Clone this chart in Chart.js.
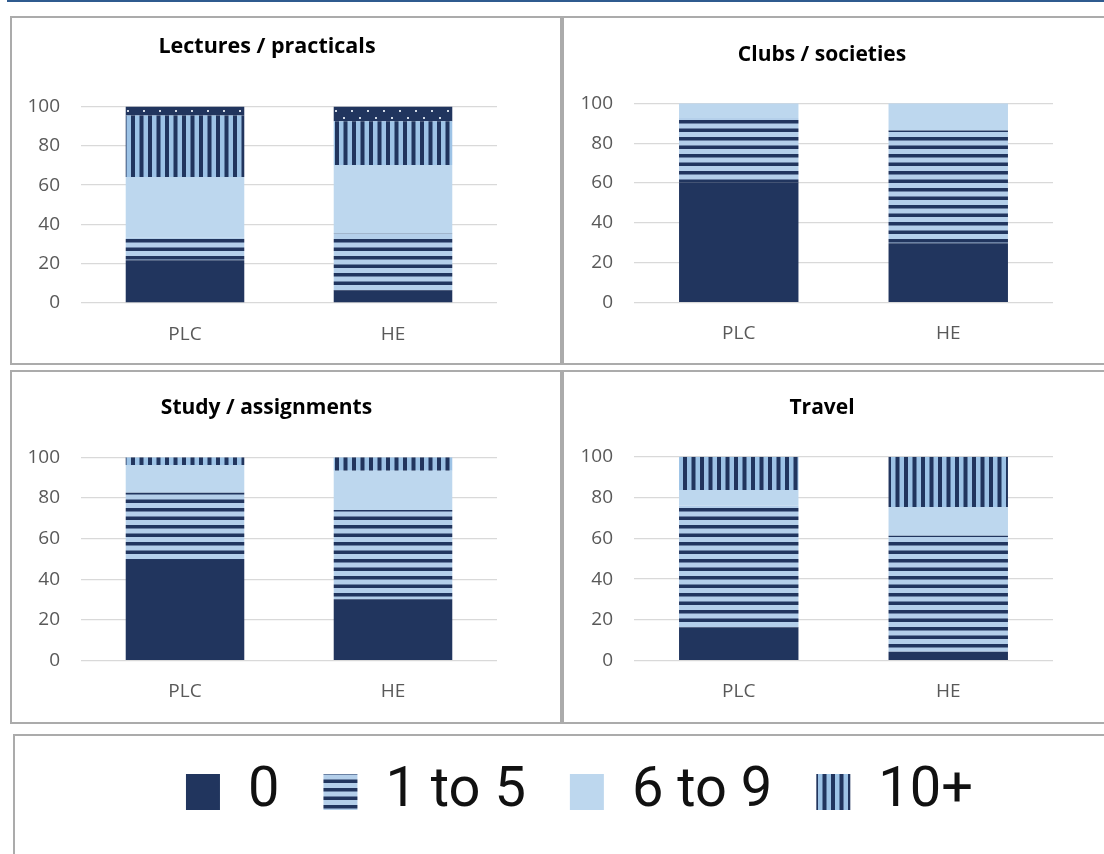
<!DOCTYPE html>
<html lang="en">
<head>
<meta charset="UTF-8">
<title>Hours per week</title>
<style>
  body { margin: 0; width: 1104px; height: 854px; overflow: hidden; background: #fff; position: relative; }
  #topline { position: absolute; left: 7px; top: 0; width: 1097px; height: 2px; background: #2f5b8f; }
  .panel { position: absolute; box-sizing: border-box; border: 2px solid #ababab; background: #fff; overflow: hidden; }
  .panel canvas { position: absolute; left: 0; top: 0; }
</style>
</head>
<body>
<div id="topline"></div>
<div class="panel" style="left:10px;top:16px;width:552px;height:349px"><canvas id="lectures" width="548" height="345"></canvas></div>
<div class="panel" style="left:562px;top:16px;width:560px;height:349px"><canvas id="clubs" width="540" height="345"></canvas></div>
<div class="panel" style="left:10px;top:370px;width:552px;height:354px"><canvas id="study" width="548" height="350"></canvas></div>
<div class="panel" style="left:562px;top:370px;width:560px;height:354px"><canvas id="travel" width="540" height="350"></canvas></div>
<div class="panel" style="left:13px;top:734px;width:1110px;height:140px"><canvas id="legend" width="1089" height="300" style="top:-16px"></canvas></div>

<script src="https://cdn.jsdelivr.net/npm/chart.js"></script>
<script>
// data (percent of students)
const categories = ['PLC', 'HE'];
const seriesNames = ['0', '1 to 5', '6 to 9', '10+'];

const lectures0 = [21.7, 6.5];
const lectures1to5 = [11.5, 28.7];
const lectures6to9 = [30.9, 35];
const lectures10 = [31.3, 22.3];
const lecturesTop = [4.6, 7.5];

const clubs0 = [60.2, 29.8];
const clubs1to5 = [32.4, 56.5];
const clubs6to9 = [7.4, 13.7];
const clubs10 = [0, 0];

const study0 = [49, 30.2];
const study1to5 = [33.6, 43.9];
const study6to9 = [13.6, 19.3];
const study10 = [3.8, 6.6];

const travel0 = [16.3, 4.4];
const travel1to5 = [59.8, 56.9];
const travel6to9 = [7.6, 14];
const travel10 = [16.3, 24.7];

const yTicks = [0, 20, 40, 60, 80, 100];

const DARK = '#21355e';
const LIGHT = '#bdd7ee';
const FONT = "'Open Sans', 'Noto Sans', sans-serif";

function tile(w, h, draw) {
    const c = document.createElement('canvas');
    c.width = w; c.height = h;
    const g = c.getContext('2d');
    draw(g);
    return g.createPattern(c, 'repeat');
}

const solidFill = DARK;
const hStripes = tile(17, 17, g => {
    g.fillStyle = '#b4cfea'; g.fillRect(0, 0, 17, 17);
    g.fillStyle = DARK; g.fillRect(0, 0, 17, 3.5); g.fillRect(0, 8.5, 17, 3.5);
});
const lightFill = LIGHT;
const vStripes = tile(17, 17, g => {
    g.fillStyle = '#9dc3e6'; g.fillRect(0, 0, 17, 17);
    g.fillStyle = DARK; g.fillRect(0, 0, 4, 17); g.fillRect(8.5, 0, 4, 17);
});
const dotted = tile(16, 15, g => {
    g.fillStyle = DARK; g.fillRect(0, 0, 16, 15);
    g.fillStyle = '#d0d8e4';
    g.fillRect(3, 2, 2, 2); g.fillRect(11, 9, 2, 2);
});
const fills = [solidFill, hStripes, lightFill, vStripes];

function makePanel(id, title, series, extra, geo) {
    const datasets = series.map((d, i) => ({ label: seriesNames[i], data: d, backgroundColor: fills[i], borderWidth: 0 }));
    if (extra) datasets.push({ label: '', data: extra, backgroundColor: dotted, borderWidth: 0 });

    new Chart(document.getElementById(id), {
        type: 'bar',
        data: { labels: categories, datasets: datasets },
        options: {
            responsive: false,
            animation: false,
            events: [],
            layout: { padding: { left: 0, right: geo.right, top: 0, bottom: 0 } },
            datasets: { bar: { categoryPercentage: 1, barPercentage: 0.57 } },
            plugins: {
                legend: { display: false },
                tooltip: { enabled: false },
                title: {
                    display: true,
                    text: title,
                    color: '#000',
                    font: { family: FONT, size: geo.titleSize, weight: 'bold' },
                    padding: { top: geo.titleTop, bottom: geo.titleBottom }
                }
            },
            scales: {
                x: {
                    stacked: true,
                    grid: { display: false, drawTicks: false },
                    border: { display: false },
                    ticks: { color: '#595959', font: { family: FONT, size: 19 }, padding: geo.xPad },
                    afterFit: s => { s.height = geo.xH; }
                },
                y: {
                    stacked: true,
                    min: 0,
                    max: 100,
                    afterBuildTicks: s => { s.ticks = yTicks.map(v => ({ value: v })); },
                    grid: { color: '#d9d9d9', lineWidth: 1.3, drawTicks: false },
                    border: { display: false },
                    ticks: { color: '#595959', font: { family: FONT, size: 19 }, padding: 21 },
                    afterFit: s => { s.width = geo.yW; }
                },
                // empty right-hand axis, only reserves space so the title sits where it does in the original
                y2: {
                    type: 'linear',
                    position: 'right',
                    grid: { display: false, drawTicks: false },
                    border: { display: false },
                    ticks: { display: false },
                    afterFit: s => { s.width = geo.y2W; }
                }
            }
        }
    });
}

makePanel('lectures', 'Lectures / practicals',
    [lectures0, lectures1to5, lectures6to9, lectures10], lecturesTop,
    { right: 38, yW: 69, y2W: 25, xH: 60, xPad: 20.6, titleSize: 21.5, titleTop: 16, titleBottom: 46.7 });
makePanel('clubs', 'Clubs / societies',
    [clubs0, clubs1to5, clubs6to9, clubs10], null,
    { right: 24, yW: 70, y2W: 27, xH: 60.3, xPad: 19, titleSize: 21, titleTop: 24.4, titleBottom: 35.7 });
makePanel('study', 'Study / assignments',
    [study0, study1to5, study6to9, study10], null,
    { right: 39, yW: 69, y2W: 24, xH: 61.3, xPad: 19.6, titleSize: 21, titleTop: 23.4, titleBottom: 36.7 });
makePanel('travel', 'Travel',
    [travel0, travel1to5, travel6to9, travel10], null,
    { right: 24, yW: 70, y2W: 27, xH: 61.3, xPad: 19.6, titleSize: 21, titleTop: 23.4, titleBottom: 36.1 });

// shared legend in its own box
new Chart(document.getElementById('legend'), {
    type: 'bar',
    data: {
        labels: [],
        datasets: seriesNames.map((n, i) => ({ label: n, data: [], backgroundColor: fills[i], borderWidth: 0 }))
    },
    options: {
        responsive: false,
        animation: false,
        events: [],
        layout: { padding: { top: 0, left: 40 } },
        plugins: {
            tooltip: { enabled: false },
            legend: {
                display: true,
                labels: {
                    color: '#111',
                    boxWidth: 34,
                    boxHeight: 36,
                    padding: 44,
                    font: { family: "Roboto, 'Liberation Sans', sans-serif", size: 56 }
                }
            }
        },
        scales: { x: { display: false }, y: { display: false } }
    }
});
</script>
</body>
</html>
